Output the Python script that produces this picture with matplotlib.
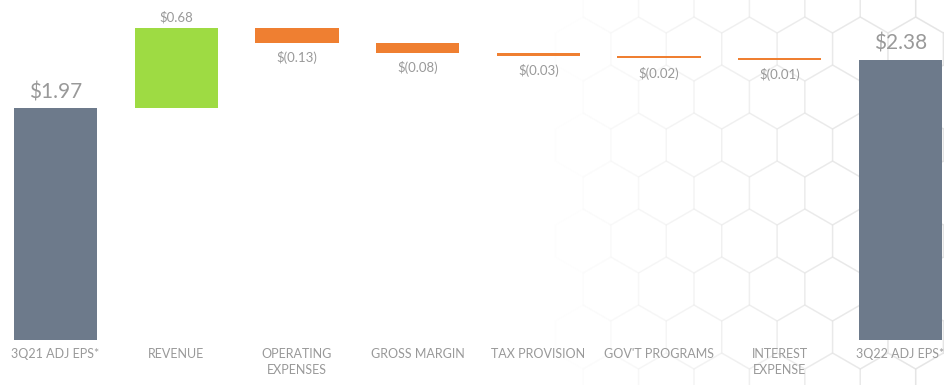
import numpy as np
import matplotlib.pyplot as plt
from matplotlib.patches import RegularPolygon

categories = ["3Q21 ADJ EPS*", "REVENUE", "OPERATING\nEXPENSES", "GROSS MARGIN",
              "TAX PROVISION", "GOV'T PROGRAMS", "INTEREST\nEXPENSE", "3Q22 ADJ EPS*"]
start_eps = 1.97
changes = [0.68, -0.13, -0.08, -0.03, -0.02, -0.01]
end_eps = 2.38
value_labels = ["$1.97", "$0.68", "$(0.13)", "$(0.08)", "$(0.03)", "$(0.02)", "$(0.01)", "$2.38"]

plt.rcParams['font.family'] = ['Lato', 'DejaVu Sans']

GREY = "#6d7a8b"
GREEN = "#9edb43"
ORANGE = "#ef7f31"
TEXT = "#999999"

fig = plt.figure(figsize=(9.44, 3.85), dpi=100)

# faint hexagon texture in the background (right side), in pixel coords
bg = fig.add_axes([0, 0, 1, 1])
bg.set_xlim(0, 944)
bg.set_ylim(0, 385)
bg.axis("off")
r = 32
for row in range(10):
    for col in range(16):
        cx = col * r * np.sqrt(3) + (row % 2) * r * np.sqrt(3) / 2 + 500
        cy = row * r * 1.5
        if cx > 980:
            continue
        a = min(1.0, max(0.0, (cx - 560) / 380))
        if a <= 0:
            continue
        bg.add_patch(RegularPolygon((cx, cy), 6, radius=r, fill=False,
                                    edgecolor=(0.88, 0.88, 0.88, a * 0.6), lw=1.0))

ax = fig.add_axes([0, 0, 1, 1])
ax.set_xlim(-0.46, 7.36)
ax.set_ylim(-0.382, 2.886)
ax.axis("off")

w = 0.69
# totals
ax.bar(0, start_eps, width=w, color=GREY)
ax.bar(7, end_eps, width=w, color=GREY)
ax.text(0, start_eps + 0.05, value_labels[0], ha="center", va="bottom",
        fontsize=15, color=TEXT)
ax.text(7, end_eps + 0.05, value_labels[7], ha="center", va="bottom",
        fontsize=15, color=TEXT)

# steps
level = start_eps
for i, ch in enumerate(changes, start=1):
    bottom = level if ch > 0 else level + ch
    ax.bar(i, abs(ch), bottom=bottom, width=w, color=GREEN if ch > 0 else ORANGE)
    if ch > 0:
        ax.text(i, level + ch + 0.04, value_labels[i], ha="center", va="bottom",
                fontsize=9.5, color=TEXT)
    else:
        ax.text(i, level + ch - 0.07, value_labels[i], ha="center", va="top",
                fontsize=9.5, color=TEXT)
    level += ch

for i, lab in enumerate(categories):
    ax.text(i, -0.07, lab, ha="center", va="top", fontsize=9, color=TEXT,
            linespacing=1.35)

fig.savefig("out.png", dpi=100)
